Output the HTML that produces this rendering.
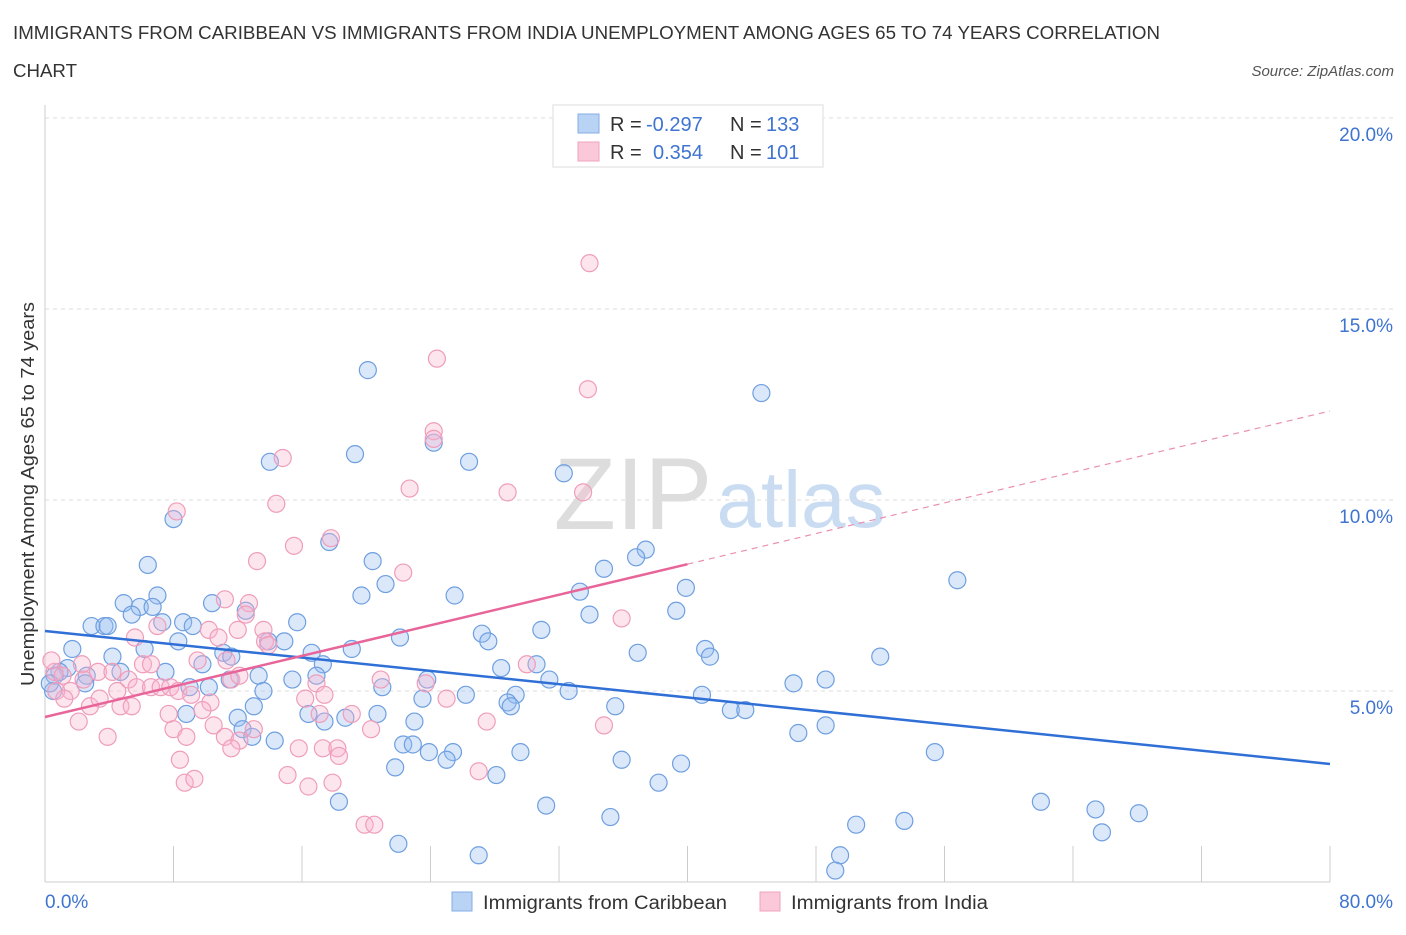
<!DOCTYPE html>
<html><head><meta charset="utf-8"><style>
body{margin:0;background:#fff;font-family:"Liberation Sans",sans-serif;}
svg text{font-family:"Liberation Sans",sans-serif;}
</style></head><body>
<svg id="chart" width="1406" height="930" xmlns="http://www.w3.org/2000/svg">
<text x="13" y="39" font-size="18" fill="#333" textLength="1147" lengthAdjust="spacingAndGlyphs">IMMIGRANTS FROM CARIBBEAN VS IMMIGRANTS FROM INDIA UNEMPLOYMENT AMONG AGES 65 TO 74 YEARS CORRELATION</text>
<text x="13" y="77" font-size="18" fill="#333" textLength="64" lengthAdjust="spacingAndGlyphs">CHART</text>
<text x="1394" y="76" font-size="15" fill="#555" font-style="italic" text-anchor="end">Source: ZipAtlas.com</text>
<text x="0" y="0" transform="translate(34,494) rotate(-90)" font-size="18" fill="#333" text-anchor="middle" textLength="384" lengthAdjust="spacingAndGlyphs">Unemployment Among Ages 65 to 74 years</text>
<g><text x="633" y="529" font-size="102" fill="#ddd" font-family="Liberation Serif" text-anchor="middle">ZIP</text><text x="801" y="527" font-size="80" fill="#c9dcf2" text-anchor="middle">atlas</text></g>
<g id="grid"></g><g id="axes"></g><g id="pts"></g><g id="trends"></g>
<g>
<rect x="553" y="105" width="270" height="62" fill="#fff" stroke="#ddd"/>
<rect x="578" y="114" width="21" height="19" fill="#b9d3f5" stroke="#85aee6"/>
<rect x="578" y="142" width="21" height="19" fill="#fac8d8" stroke="#f0a2bd"/>
<text x="610" y="131" font-size="20" fill="#333">R = </text><text x="646" y="131" font-size="20" fill="#3f74d0">-0.297</text>
<text x="730" y="131" font-size="20" fill="#333">N = </text><text x="766" y="131" font-size="20" fill="#3f74d0">133</text>
<text x="610" y="159" font-size="20" fill="#333">R = </text><text x="653" y="159" font-size="20" fill="#3f74d0">0.354</text>
<text x="730" y="159" font-size="20" fill="#333">N = </text><text x="766" y="159" font-size="20" fill="#3f74d0">101</text>
</g>
<g>
<rect x="452" y="892" width="20" height="19" fill="#b9d3f5" stroke="#85aee6"/>
<text x="483" y="909" font-size="19" fill="#333" textLength="244" lengthAdjust="spacingAndGlyphs">Immigrants from Caribbean</text>
<rect x="760" y="892" width="20" height="19" fill="#fac8d8" stroke="#f0a2bd"/>
<text x="791" y="909" font-size="19" fill="#333" textLength="197" lengthAdjust="spacingAndGlyphs">Immigrants from India</text>
</g>
</svg>
<script>
const xTicks=[0,8,16,24,32,40,48,56,64,72,80];
const yTicks=[5,10,15,20];
const yTickLabels=["5.0%","10.0%","15.0%","20.0%"];
const xTickLabels=["0.0%","80.0%"];
const blueX=[20.1,44.6,14.0,19.3,24.2,26.4,32.3,8.0,17.7,20.4,6.4,37.4,36.8,34.8,56.8,39.9,21.2,19.7,25.5,33.3,33.9,4.9,7.0,5.9,6.7,10.4,12.5,39.3,2.9,3.7,3.9,5.4,7.3,8.6,9.2,15.7,30.9,27.2,27.6,22.1,8.3,14.9,13.9,41.1,41.4,52.0,36.9,19.1,1.7,4.2,6.2,11.1,11.6,16.6,17.3,9.8,7.5,28.4,30.6,4.7,1.4,0.9,0.6,2.6,2.5,15.4,16.9,23.8,21.0,31.4,32.6,29.3,26.2,23.5,28.8,29.0,40.9,46.6,48.6,42.7,43.6,35.5,13.3,10.2,9.0,11.5,13.6,13.0,8.8,12.0,16.4,20.7,17.4,18.7,23.0,48.6,46.9,55.4,12.3,14.3,12.9,22.3,22.9,25.4,23.9,25.0,29.6,28.1,35.9,39.6,21.8,18.3,31.2,38.2,62.0,65.4,68.1,65.8,50.5,53.5,35.2,22.0,27.0,49.5,49.2,0.5,0.3];
const blueY=[13.4,12.8,11.0,11.2,11.5,11.0,10.7,9.5,8.9,8.4,8.3,8.7,8.5,8.2,7.9,7.7,7.8,7.5,7.5,7.6,7.0,7.3,7.5,7.2,7.2,7.3,7.1,7.1,6.7,6.7,6.7,7.0,6.8,6.8,6.7,6.8,6.6,6.5,6.3,6.4,6.3,6.3,6.3,6.1,5.9,5.9,6.0,6.1,6.1,5.9,6.1,6.0,5.9,6.0,5.7,5.7,5.5,5.6,5.7,5.5,5.6,5.5,5.4,5.4,5.2,5.3,5.4,5.3,5.1,5.3,5.0,4.9,4.9,4.8,4.7,4.6,4.9,5.2,5.3,4.5,4.5,4.6,5.4,5.1,5.1,5.3,5.0,4.6,4.4,4.3,4.4,4.4,4.2,4.3,4.2,4.1,3.9,3.4,4.0,3.7,3.8,3.6,3.6,3.4,3.4,3.2,3.4,2.8,3.2,3.1,3.0,2.1,2.0,2.6,2.1,1.9,1.8,1.3,1.5,1.6,1.7,1.0,0.7,0.7,0.3,5.0,5.2];
const pinkX=[33.9,24.4,33.8,24.2,24.2,14.8,22.7,28.8,33.5,14.4,8.2,17.8,15.5,13.2,22.3,11.2,12.7,35.9,12.5,7.0,10.2,10.8,12.0,13.6,5.6,13.7,13.9,9.5,11.3,6.1,6.6,11.6,12.1,2.3,3.3,4.2,5.2,2.4,1.6,0.6,1.1,0.7,1.2,2.8,3.4,4.7,4.5,5.7,6.6,7.2,7.8,8.3,9.1,10.3,9.8,5.4,7.7,8.0,8.8,10.5,11.2,12.1,11.6,13.0,16.2,16.9,17.4,17.1,19.1,20.9,20.3,23.7,25.0,30.0,34.8,27.5,15.8,17.3,18.2,18.3,8.4,15.1,16.4,17.9,8.7,9.3,3.9,2.1,19.9,20.5,27.0,0.4];
const pinkY=[16.2,13.7,12.9,11.8,11.6,11.1,10.3,10.2,10.2,9.9,9.7,9.0,8.8,8.4,8.1,7.4,7.3,6.9,7.0,6.7,6.6,6.4,6.6,6.6,6.4,6.3,6.2,5.8,5.8,5.7,5.7,5.3,5.4,5.7,5.5,5.5,5.3,5.3,5.0,5.5,5.4,5.0,4.8,4.6,4.8,4.6,5.0,5.1,5.1,5.1,5.1,5.0,4.9,4.7,4.5,4.6,4.4,4.0,3.8,4.1,3.8,3.7,3.5,4.0,4.8,5.2,4.9,4.4,4.4,5.3,4.0,5.2,4.8,5.7,4.1,4.2,3.5,3.5,3.5,3.3,3.2,2.8,2.5,2.6,2.6,2.7,3.8,4.2,1.5,1.5,2.9,5.8];
const blueTrendX=[0,80];const blueTrendY=[6.57,3.09];
const pinkTrendX=[0,40];const pinkTrendY=[4.32,8.32];
const pinkDashX=[40,80];const pinkDashY=[8.32,12.33];

const X0=45,X1=1330,Y0=882,YPER=38.2;
const sx=v=>X0+(v/80)*(X1-X0);
const sy=v=>Y0-v*YPER;
const NS="http://www.w3.org/2000/svg";
function mk(tag,parent,attrs){const e=document.createElementNS(NS,tag);for(const k in attrs)e.setAttribute(k,attrs[k]);parent.appendChild(e);return e;}
const grid=document.getElementById('grid'),axes=document.getElementById('axes'),pts=document.getElementById('pts'),tr=document.getElementById('trends');
yTicks.forEach((t,i)=>{
 const l=mk('line',grid,{x1:X0,x2:1394,y1:sy(t),y2:sy(t),stroke:'#ddd','stroke-dasharray':'4,4'});
 
 
 const tx=mk('text',axes,{x:1393,y:sy(t)+23,'font-size':19,fill:'#3f74d0','text-anchor':'end'});
 tx.textContent=yTickLabels[i];
 
 
});
xTicks.forEach(t=>{
 const l=mk('line',axes,{x1:sx(t),x2:sx(t),y1:Y0-36,y2:Y0,stroke:'#ccc'});
 
 
});
const ax=mk('line',axes,{x1:X0,x2:X0,y1:105,y2:Y0,stroke:'#ccc'});


const bx=mk('line',axes,{x1:X0,x2:X1,y1:Y0,y2:Y0,stroke:'#ccc'});


[[xTickLabels[0],45,'start'],[xTickLabels[1],1393,'end']].forEach(d=>{
 const t=mk('text',axes,{x:d[1],y:908,'font-size':19,fill:'#3f74d0','text-anchor':d[2]});
 t.textContent=d[0];
 
 
});
blueX.forEach((v,i)=>{
 const c=mk('circle',pts,{cx:sx(v),cy:sy(blueY[i]),r:8.5,fill:'rgba(150,190,240,0.35)',stroke:'#6f9fe0','stroke-width':1.2});
 
 
});
pinkX.forEach((v,i)=>{
 const c=mk('circle',pts,{cx:sx(v),cy:sy(pinkY[i]),r:8.5,fill:'rgba(248,180,205,0.35)',stroke:'#ef9dba','stroke-width':1.2});
 
 
});
const b=mk('line',tr,{x1:sx(blueTrendX[0]),y1:sy(blueTrendY[0]),x2:sx(blueTrendX[1]),y2:sy(blueTrendY[1]),stroke:'#2f6fd6','stroke-width':2.5});


const p=mk('line',tr,{x1:sx(pinkTrendX[0]),y1:sy(pinkTrendY[0]),x2:sx(pinkTrendX[1]),y2:sy(pinkTrendY[1]),stroke:'#e8659a','stroke-width':2.5});


const pd=mk('line',tr,{x1:sx(pinkDashX[0]),y1:sy(pinkDashY[0]),x2:sx(pinkDashX[1]),y2:sy(pinkDashY[1]),stroke:'#eb8fb2','stroke-width':1.2,'stroke-dasharray':'6,5'});


</script>
</body></html>
